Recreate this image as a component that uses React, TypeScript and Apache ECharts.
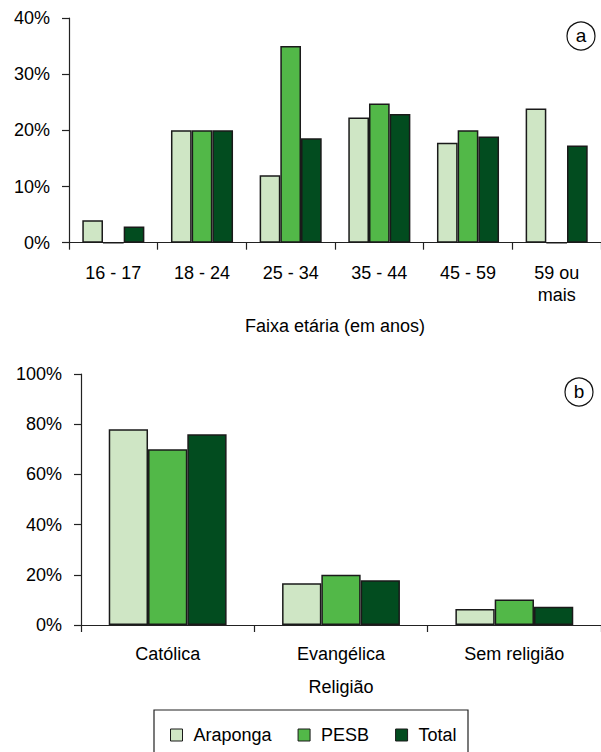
import React, { useEffect, useRef } from "react";
import * as echarts from "echarts";

const ageCategories = ["16 - 17", "18 - 24", "25 - 34", "35 - 44", "45 - 59", "59 ou\nmais"];
const ageAraponga = [4, 20, 12, 22.3, 17.8, 23.9];
const agePESB = [0, 20, 35, 24.8, 20, 0];
const ageTotal = [2.9, 20, 18.6, 22.9, 18.9, 17.3];

const religionCategories = ["Católica", "Evangélica", "Sem religião"];
const relAraponga = [78, 16.6, 6.4];
const relPESB = [70, 20, 10.2];
const relTotal = [76, 17.8, 7.3];

const seriesNames = ["Araponga", "PESB", "Total"];
const colors = ["#cfe6c5", "#52b848", "#024c1f"];

const FONT = "'Liberation Sans', Arial, sans-serif";

export default function App() {
  const ref = useRef<HTMLDivElement>(null);
  useEffect(() => {
    if (!ref.current) return;
    const chart = echarts.init(ref.current, undefined, { renderer: "svg" });
    const axisLine = { lineStyle: { color: "#222", width: 1.2 } };
    const label = { color: "#000", fontSize: 18, fontFamily: FONT };
    const barStyle = (i: number) => ({
      color: colors[i],
      borderColor: "#1a1a1a",
      borderWidth: 1.5,
    });
    const aData = [ageAraponga, agePESB, ageTotal];
    const bData = [relAraponga, relPESB, relTotal];
    const series: any[] = [];
    seriesNames.forEach((n, i) => {
      series.push({
        name: n,
        type: "bar",
        xAxisIndex: 0,
        yAxisIndex: 0,
        data: aData[i],
        barGap: "0%",
        barCategoryGap: "30%",
        itemStyle: barStyle(i),
      });
    });
    seriesNames.forEach((n, i) => {
      series.push({
        name: n,
        type: "bar",
        xAxisIndex: 1,
        yAxisIndex: 1,
        data: bData[i],
        barGap: "0%",
        barCategoryGap: "32%",
        itemStyle: barStyle(i),
      });
    });
    chart.setOption({
      animation: false,
      textStyle: { fontFamily: FONT },
      grid: [
        { left: 69, top: 18, height: 224.7, right: -8 },
        { left: 81, top: 374, height: 251, right: -8 },
      ],
      xAxis: [
        {
          type: "category",
          gridIndex: 0,
          data: ageCategories,
          axisLine,
          axisTick: { show: true, length: 7, lineStyle: { color: "#222", width: 1.2 } },
          axisLabel: { ...label, margin: 19, lineHeight: 22 },
          name: "Faixa etária (em anos)",
          nameLocation: "middle",
          nameGap: 74,
          nameTextStyle: { ...label },
        },
        {
          type: "category",
          gridIndex: 1,
          data: religionCategories,
          axisLine,
          axisTick: { show: true, length: 7, lineStyle: { color: "#222", width: 1.2 } },
          axisLabel: { ...label, margin: 20 },
          name: "Religião",
          nameLocation: "middle",
          nameGap: 53,
          nameTextStyle: { ...label },
        },
      ],
      yAxis: [
        {
          type: "value",
          gridIndex: 0,
          min: 0,
          max: 40,
          interval: 10,
          axisLine: { show: true, ...axisLine },
          axisTick: { show: true, length: 7, lineStyle: { color: "#222", width: 1.2 } },
          axisLabel: { ...label, margin: 19, formatter: "{value}%" },
          splitLine: { show: false },
        },
        {
          type: "value",
          gridIndex: 1,
          min: 0,
          max: 100,
          interval: 20,
          axisLine: { show: true, ...axisLine },
          axisTick: { show: true, length: 7, lineStyle: { color: "#222", width: 1.2 } },
          axisLabel: { ...label, margin: 19, formatter: "{value}%" },
          splitLine: { show: false },
        },
      ],
      legend: {
        data: seriesNames,
        left: 165,
        top: 721,
        icon: "rect",
        itemWidth: 12,
        itemHeight: 12,
        itemGap: 26,
        itemStyle: { borderColor: "#1a1a1a", borderWidth: 1 },
        textStyle: { color: "#000", fontSize: 18, fontFamily: FONT, padding: [0, 0, 0, 6] },
        selectedMode: false,
      },
      graphic: [
        {
          type: "rect",
          shape: { x: 154, y: 710, width: 314, height: 60 },
          style: { fill: "none", stroke: "#222", lineWidth: 1.2 },
        },
        {
          type: "circle",
          shape: { cx: 581, cy: 36, r: 14 },
          style: { fill: "#fff", stroke: "#111", lineWidth: 1.2 },
        },
        {
          type: "text",
          x: 581,
          y: 35,
          style: { text: "a", fontSize: 19, fontFamily: FONT, fill: "#000", align: "center", verticalAlign: "middle" },
        },
        {
          type: "circle",
          shape: { cx: 579, cy: 392, r: 14 },
          style: { fill: "#fff", stroke: "#111", lineWidth: 1.2 },
        },
        {
          type: "text",
          x: 579,
          y: 391,
          style: { text: "b", fontSize: 19, fontFamily: FONT, fill: "#000", align: "center", verticalAlign: "middle" },
        },
      ],
      series,
    });
    return () => chart.dispose();
  }, []);
  return (
    <div
      ref={ref}
      style={{ position: "absolute", left: 0, top: 0, width: 601, height: 752, background: "#fff" }}
    />
  );
}
